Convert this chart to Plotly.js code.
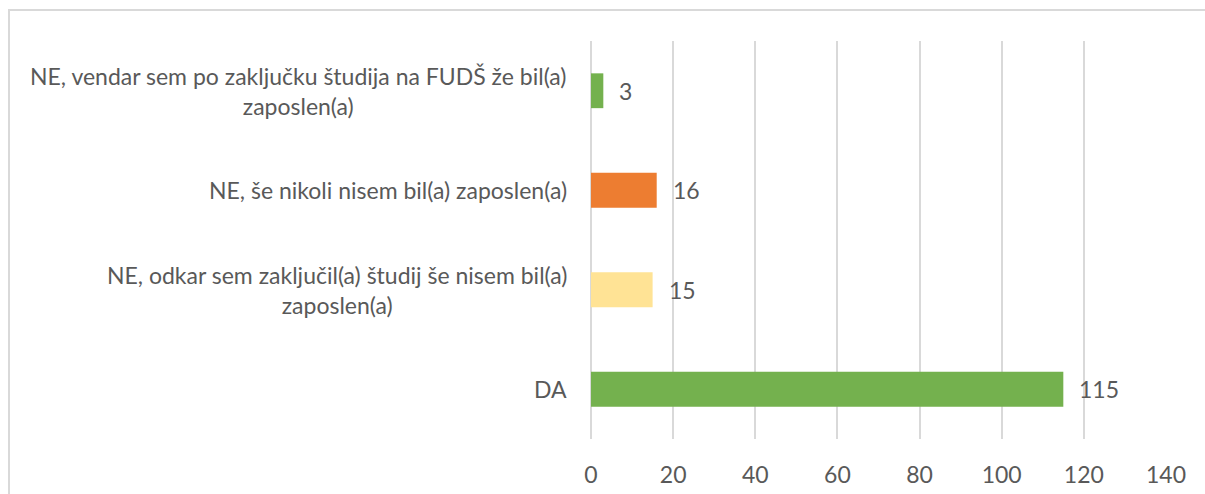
<!DOCTYPE html>
<html>
<head>
<meta charset="utf-8">
<script src="https://cdn.plot.ly/plotly-3.0.1.min.js"></script>
<style>
  html, body { margin: 0; padding: 0; background: #ffffff; }
  #chart { width: 1205px; height: 494px; }
</style>
</head>
<body>
<div id="chart"></div>
<script>
// ---- data ----
const categories = [
  "DA",
  "NE, odkar sem zaključil(a) študij še nisem bil(a) zaposlen(a)",
  "NE, še nikoli nisem bil(a) zaposlen(a)",
  "NE, vendar sem po zaključku študija na FUDŠ že bil(a) zaposlen(a)"
];
const categoryLabels = [
  "DA",
  "NE, odkar sem zaključil(a) študij še nisem bil(a)<br>zaposlen(a)",
  "NE, še nikoli nisem bil(a) zaposlen(a)",
  "NE, vendar sem po zaključku študija na FUDŠ že bil(a)<br>zaposlen(a)"
];
const values = [115, 15, 16, 3];
const barColors = ["#74B14E", "#FFE395", "#ED7D31", "#74B14E"];
const xTickValues = [0, 20, 40, 60, 80, 100, 120, 140];

// ---- layout constants ----
const W = 1205, H = 494;
const M = { l: 591, r: 39, t: 41, b: 55 };
const plotW = W - M.l - M.r;
const plotH = H - M.t - M.b;
const textColor = "#595959";
const gridColor = "#D9D9D9";
const fontFamily = "Lato, 'Open Sans', sans-serif";
const fontSize = 23;

// frame around the chart (pixel -> paper)
const px2x = px => (px - M.l) / plotW;
const py2y = py => (H - M.b - py) / plotH;

const trace = {
  type: "bar",
  orientation: "h",
  y: categories,
  x: values,
  marker: { color: barColors, line: { width: 0 } },
  width: 0.35,
  hoverinfo: "x+y"
};

const annotations = [];
categories.forEach((c, i) => {
  annotations.push({
    xref: "paper", x: 0, xanchor: "right", xshift: -22,
    yref: "y", y: c, yanchor: "middle",
    text: categoryLabels[i], align: "center", showarrow: false,
    font: { family: fontFamily, size: fontSize, color: textColor }
  });
  annotations.push({
    xref: "x", x: values[i], xanchor: "left", xshift: 14,
    yref: "y", y: c, yanchor: "middle",
    text: String(values[i]), showarrow: false,
    font: { family: fontFamily, size: fontSize, color: textColor }
  });
});

const layout = {
  width: W, height: H,
  margin: M,
  paper_bgcolor: "#ffffff",
  plot_bgcolor: "#ffffff",
  showlegend: false,
  font: { family: fontFamily, size: fontSize, color: textColor },
  xaxis: {
    range: [0, 140],
    tickvals: xTickValues,
    ticktext: xTickValues.map(String),
    showgrid: true, gridcolor: gridColor, gridwidth: 2,
    zeroline: true, zerolinecolor: gridColor, zerolinewidth: 2,
    showline: false,
    ticks: "outside", ticklen: 15, tickcolor: "rgba(0,0,0,0)",
    tickfont: { family: fontFamily, size: fontSize, color: textColor },
    fixedrange: true
  },
  yaxis: {
    type: "category",
    categoryorder: "array",
    categoryarray: categories,
    range: [-0.5, 3.5],
    showticklabels: false,
    showgrid: false, zeroline: false, showline: false,
    fixedrange: true
  },
  annotations: annotations,
  shapes: [{
    type: "rect", xref: "paper", yref: "paper",
    x0: px2x(9), x1: px2x(1215), y0: py2y(510), y1: py2y(10),
    line: { color: gridColor, width: 2 }, fillcolor: "rgba(0,0,0,0)", layer: "below"
  }]
};

Plotly.newPlot("chart", [trace], layout, { displayModeBar: false, staticPlot: true });
</script>
</body>
</html>
